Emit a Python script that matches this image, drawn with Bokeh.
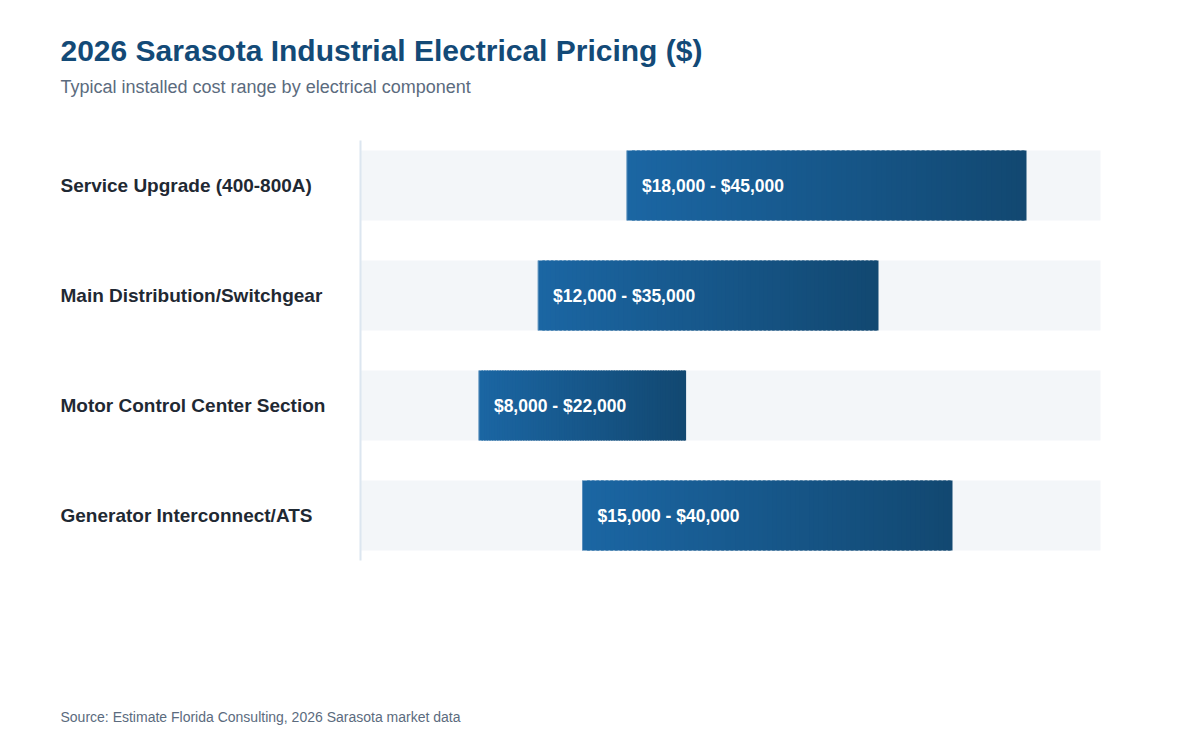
from bokeh.plotting import figure
from bokeh.models import Range1d, Label, ColumnDataSource
from bokeh.core.properties import value
from bokeh.embed import file_html
from bokeh.resources import INLINE

# Pricing data (installed cost range, USD)
components = [
    "Service Upgrade (400-800A)",
    "Main Distribution/Switchgear",
    "Motor Control Center Section",
    "Generator Interconnect/ATS",
]
low_cost = [18000, 12000, 8000, 15000]
high_cost = [45000, 35000, 22000, 40000]
axis_max = 50000

W, H = 1200, 750
TRACK_L, TRACK_R = 360, 1100      # pixel extent of the value scale
FIRST_ROW_Y = 185                 # pixel centre of the first row (from top)
ROW_PX = 110
BAR_PX = 70
FONT = "Liberation Sans"

n = len(components)
px_per_unit = (TRACK_R - TRACK_L) / axis_max

p = figure(
    width=W, height=H,
    x_range=Range1d(-TRACK_L / px_per_unit, axis_max + (W - TRACK_R) / px_per_unit),
    y_range=Range1d((H - FIRST_ROW_Y) / ROW_PX, -FIRST_ROW_Y / ROW_PX),
    output_backend="svg", toolbar_location=None,
    min_border=0,
)
p.axis.visible = False
p.grid.visible = False
p.outline_line_color = None
p.background_fill_color = "white"
p.border_fill_color = "white"

bar_h = BAR_PX / ROW_PX
rows = list(range(n))

# background tracks spanning the full scale
p.hbar(y=rows, left=[0] * n, right=[axis_max] * n, height=bar_h,
       fill_color="#f3f6f9", line_color=None)

# baseline on the left of the tracks
edge = bar_h / 2 + 10 / ROW_PX
p.segment(x0=[0], x1=[0], y0=[-edge], y1=[n - 1 + edge],
          line_color="#dce6f0", line_width=2)

# range bars, shaded left-to-right in thin slices
c0 = (0x1b, 0x66, 0xa3)
c1 = (0x12, 0x48, 0x71)
steps = 80
ys, ls, rs, cols = [], [], [], []
for i, (lo, hi) in enumerate(zip(low_cost, high_cost)):
    w = (hi - lo) / steps
    for k in range(steps):
        t = k / (steps - 1)
        r, g, b = (round(c0[j] + (c1[j] - c0[j]) * t) for j in range(3))
        ys.append(i)
        ls.append(lo + k * w)
        rs.append(lo + (k + 1) * w + (w * 0.6 if k < steps - 1 else 0))
        cols.append("#%02x%02x%02x" % (r, g, b))
p.hbar(y=ys, left=ls, right=rs, height=bar_h, fill_color=cols, line_color=None)

# light edge at the start of each bar
p.segment(x0=low_cost, x1=low_cost,
          y0=[i - bar_h / 2 for i in rows], y1=[i + bar_h / 2 for i in rows],
          line_color="#5a8fbd", line_width=1)

# value labels inside the bars
labels = [f"${lo:,} - ${hi:,}" for lo, hi in zip(low_cost, high_cost)]
src = ColumnDataSource(dict(x=low_cost, y=rows, text=labels))
p.text(x="x", y="y", text="text", source=src, x_offset=15,
       text_color="white", text_font=value(FONT), text_font_style="bold",
       text_font_size="17.5px", text_baseline="middle", text_align="left")

# category names
for i, name in enumerate(components):
    p.add_layout(Label(x=60, x_units="screen", y=i, y_units="data",
                       text=name, text_font=FONT, text_font_style="bold",
                       text_font_size="19px", text_color="#1f2933",
                       text_baseline="middle", text_align="left"))


def screen_label(x, y_top, text, size, color, bold=False):
    p.add_layout(Label(x=x, y=H - y_top, x_units="screen",
                       y_units="screen", text=text, text_font=FONT,
                       text_font_size=size, text_color=color,
                       text_font_style="bold" if bold else "normal",
                       text_baseline="middle", text_align="left"))


screen_label(60, 50, "2026 Sarasota Industrial Electrical Pricing ($)",
             "30px", "#134a77", bold=True)
screen_label(60, 86, "Typical installed cost range by electrical component",
             "18px", "#5b6b7e")
screen_label(60, 716, "Source: Estimate Florida Consulting, 2026 Sarasota market data",
             "14px", "#5b6b7e")

open("out.html", "w").write(file_html(p, INLINE))
